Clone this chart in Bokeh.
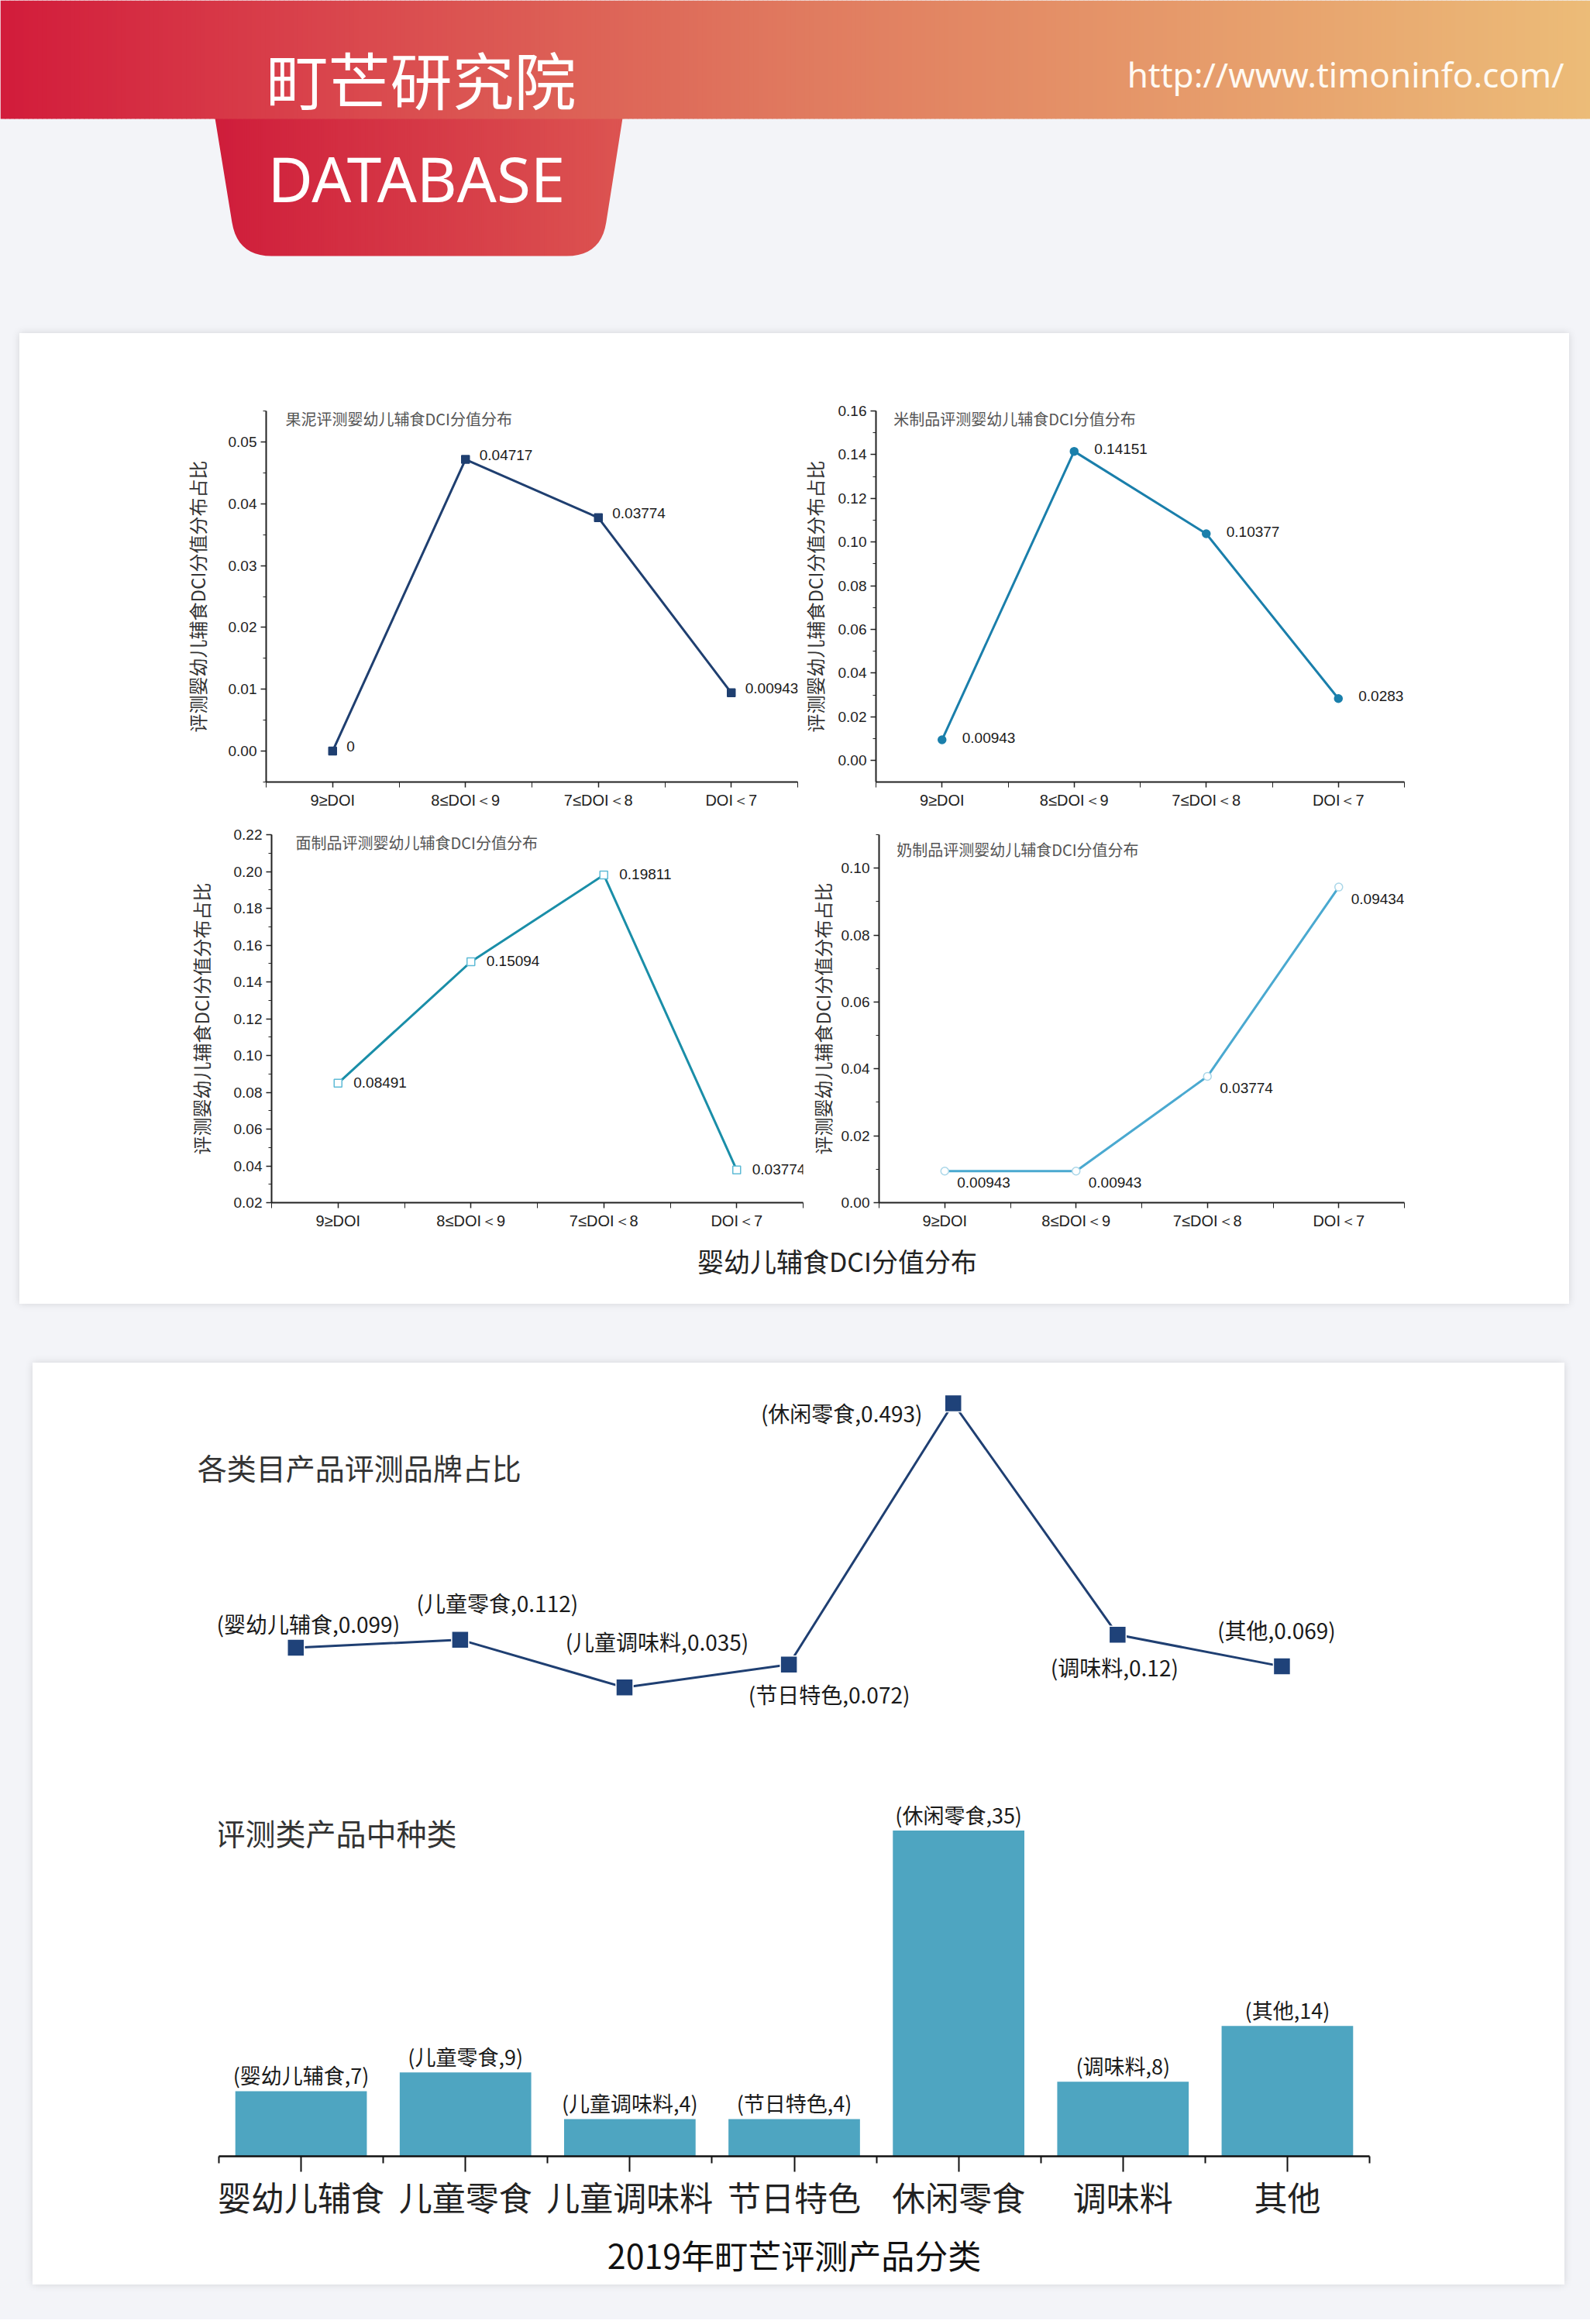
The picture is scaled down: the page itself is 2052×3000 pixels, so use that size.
import numpy as np
from bokeh.plotting import figure
from bokeh.layouts import column, row
from bokeh.models import (Range1d, FixedTicker, SingleIntervalTicker, NumeralTickFormatter,
                          ColumnDataSource, LabelSet, Label, Spacer)
from bokeh.embed import file_html
from bokeh.resources import INLINE
from bokeh.core.properties import value

# ---------------- data ----------------
dci_categories = ["9≥DOI", "8≤DOI＜9", "7≤DOI＜8", "DOI＜7"]
guoni_share = [0, 0.04717, 0.03774, 0.00943]
mizhi_share = [0.00943, 0.14151, 0.10377, 0.0283]
mianzhi_share = [0.08491, 0.15094, 0.19811, 0.03774]
naizhi_share = [0.00943, 0.00943, 0.03774, 0.09434]
dci_titles = ["果泥评测婴幼儿辅食DCI分值分布", "米制品评测婴幼儿辅食DCI分值分布",
              "面制品评测婴幼儿辅食DCI分值分布", "奶制品评测婴幼儿辅食DCI分值分布"]
dci_ylabel = "评测婴幼儿辅食DCI分值分布占比"
dci_xlabel = "婴幼儿辅食DCI分值分布"

product_categories = ["婴幼儿辅食", "儿童零食", "儿童调味料", "节日特色", "休闲零食", "调味料", "其他"]
brand_share = [0.099, 0.112, 0.035, 0.072, 0.493, 0.12, 0.069]
type_counts = [7, 9, 4, 4, 35, 8, 14]
line_title = "各类目产品评测品牌占比"
bar_title = "评测类产品中种类"
bar_xlabel = "2019年町芒评测产品分类"
brand_name = "町芒研究院"
brand_sub = "DATABASE"
brand_url = "http://www.timoninfo.com/"

# label offsets for the share line (style only)
line_label_dx = [16, 48, 42, 52, -144, -4, -7]
line_label_dy = [31, 48, 59, -38, -13, -42, 47]

BG = "#f3f4f8"
CJK = "Noto Sans CJK SC"


def hex2rgb(h):
    h = h.lstrip("#")
    return [int(h[i:i + 2], 16) for i in (0, 2, 4)]


def grad(stops, t):
    t = min(max(t, 0.0), 1.0)
    for (p0, c0), (p1, c1) in zip(stops[:-1], stops[1:]):
        if p0 <= t <= p1:
            f = (t - p0) / (p1 - p0) if p1 > p0 else 0
            a, b = hex2rgb(c0), hex2rgb(c1)
            c = [round(a[i] + (b[i] - a[i]) * f) for i in range(3)]
            return "#%02x%02x%02x" % tuple(c)
    return stops[-1][1]


def rounded_poly(pts, radii, nseg=12):
    xs, ys = [], []
    n = len(pts)
    for i, (p, r) in enumerate(zip(pts, radii)):
        if r == 0:
            xs.append(p[0]); ys.append(p[1]); continue
        pv, nx = np.array(pts[i - 1], float), np.array(pts[(i + 1) % n], float)
        pc = np.array(p, float)
        u1 = (pv - pc) / np.linalg.norm(pv - pc)
        u2 = (nx - pc) / np.linalg.norm(nx - pc)
        P0, P2 = pc + r * u1, pc + r * u2
        for t in np.linspace(0, 1, nseg):
            b = (1 - t) ** 2 * P0 + 2 * (1 - t) * t * pc + t ** 2 * P2
            xs.append(b[0]); ys.append(b[1])
    return xs, ys


def blank(fig, color):
    fig.background_fill_color = color
    fig.border_fill_color = color
    fig.outline_line_color = None
    fig.grid.visible = False


# ---------------- header ----------------
hdr = figure(width=2052, height=430, x_range=Range1d(0, 2052), y_range=Range1d(430, 0),
             x_axis_type=None, y_axis_type=None, min_border=0,
             output_backend="svg", toolbar_location=None)
blank(hdr, BG)

tab_stops = [(0, "#cf1d3b"), (1, "#dc5451")]
tx = np.arange(258, 822, 3.0)
hdr.quad(left=tx, right=tx + 3.6, top=150, bottom=345,
         fill_color=[grad(tab_stops, (x - 277) / 526) for x in tx], line_color=None)
tab_x, tab_y = rounded_poly([(277, 152), (306, 330), (775, 330), (803, 152)], [0, 44, 44, 0])
outer_x = [255, 825, 825, 255]
outer_y = [152, 152, 350, 350]
hdr.multi_polygons(xs=[[[outer_x, tab_x]]], ys=[[[outer_y, tab_y]]], fill_color=BG, line_color=None)

band_stops = [(0, "#d21c3b"), (0.2, "#d9444c"), (0.5, "#e07a5f"), (0.75, "#e69b6b"), (1, "#ecbc78")]
bx = np.linspace(0, 2052, 343)
hdr.quad(left=bx[:-1], right=bx[1:] + 0.8, top=0, bottom=153,
         fill_color=[grad(band_stops, x / 2052) for x in bx[:-1]], line_color=None)

hdr.add_layout(Label(x=343, y=99, text=brand_name, text_baseline="middle", text_font=CJK,
                     text_font_size="80px", text_color="white"))
hdr.add_layout(Label(x=345, y=229, text=brand_sub, text_baseline="middle", text_font="Noto Sans",
                     text_font_size="80px", text_color="white"))
hdr.add_layout(Label(x=2018, y=95, text=brand_url, text_baseline="middle", text_align="right",
                     text_font="Noto Sans", text_font_size="44px", text_color="#fffaf2"))


# ---------------- DCI subplots ----------------
def dci_plot(vals, title, title_xy, ylo, yhi, interval, w, h, bl, br, bt, bb,
             line_color, marker, m_line, m_fill, dx, dy, ystand):
    p = figure(width=w, height=h, x_range=Range1d(-0.5, 3.5), y_range=Range1d(ylo, yhi),
               min_border=0, min_border_left=bl, min_border_right=br,
               min_border_top=bt, min_border_bottom=bb,
               output_backend="svg", toolbar_location=None)
    blank(p, "white")
    xs = list(range(len(dci_categories)))
    src = ColumnDataSource(dict(x=xs, y=vals, t=[f"{v:g}" for v in vals]))
    p.line("x", "y", source=src, line_color=line_color, line_width=3)
    p.scatter("x", "y", source=src, marker=marker, size=10, line_color=m_line,
              fill_color=m_fill, line_width=1.5)
    p.add_layout(LabelSet(x="x", y="y", text="t", source=src, x_offset=dx, y_offset=dy,
                          text_align="left", text_baseline="middle",
                          text_font=value("Liberation Sans"), text_font_size="19px",
                          text_color="#1a1a1a"))
    p.add_layout(Label(x=title_xy[0], y=title_xy[1], text=title, text_baseline="middle",
                       text_font=CJK, text_font_size="20px", text_color="#555555"))
    xa, ya = p.xaxis[0], p.yaxis[0]
    xa.ticker = FixedTicker(ticks=xs, minor_ticks=[i - 0.5 for i in range(len(xs) + 1)])
    xa.major_label_overrides = {i: c for i, c in enumerate(dci_categories)}
    ya.ticker = SingleIntervalTicker(interval=interval, num_minor_ticks=2)
    ya.formatter = NumeralTickFormatter(format="0.00")
    for ax in (xa, ya):
        ax.axis_line_color = "#222222"
        ax.axis_line_width = 2
        ax.major_tick_line_color = "#222222"
        ax.minor_tick_line_color = "#222222"
        ax.major_tick_line_width = 1.5
        ax.major_tick_in = 0
        ax.major_tick_out = 7
        ax.minor_tick_in = 0
        ax.minor_tick_out = 4
        ax.major_label_standoff = 5
        ax.major_label_text_font = "Liberation Sans"
        ax.major_label_text_font_size = "19px"
        ax.major_label_text_color = "#222222"
    xa.minor_tick_out = 7
    xa.major_label_text_font_size = "20px"
    ya.axis_label = dci_ylabel
    ya.axis_label_text_font = CJK
    ya.axis_label_text_font_size = "24px"
    ya.axis_label_text_font_style = "normal"
    ya.axis_label_text_color = "#333333"
    ya.axis_label_standoff = ystand
    return p


tl = dci_plot(guoni_share, dci_titles[0], (-0.354, 0.05375), -0.005, 0.055, 0.01,
              1005, 622, 318, 1, 100, 43, "#1f3f70", "square", "#1f3f70", "#1f3f70", 18, 6, 20)
tr = dci_plot(mizhi_share, dci_titles[1], (-0.366, 0.15645), -0.0099, 0.16, 0.02,
              995, 622, 96, 213, 100, 43, "#1a7fab", "circle", "#1a7fab", "#1a7fab", 26, 3, 10)
bl = dci_plot(mianzhi_share, dci_titles[2], (-0.319, 0.2158), 0.02, 0.22, 0.02,
              1015, 548, 325, 4, 22, 48, "#1a8ea8", "square", "#5fbbd6", "white", 20, 1, 22)
br = dci_plot(naizhi_share, dci_titles[3], (-0.366, 0.1057), 0.0, 0.11, 0.02,
              985, 548, 86, 213, 25, 45, "#4aa9d0", "circle", "#a9d6e8", "white", 16, -15, 4)

strip = figure(width=2000, height=83, x_range=Range1d(25, 2025), y_range=Range1d(1683, 1600),
               x_axis_type=None, y_axis_type=None, min_border=0,
               output_backend="svg", toolbar_location=None)
blank(strip, "white")
strip.add_layout(Label(x=1080, y=1627, text=dci_xlabel, text_align="center", text_baseline="middle",
                       text_font=CJK, text_font_size="34px", text_color="#222222"))

card1 = column(row(tl, tr), row(bl, br), row(strip),
               styles={"background-color": "white", "box-shadow": "0 0 10px rgba(0,0,0,0.13)"})

# ---------------- share line chart ----------------
xs7 = list(range(len(product_categories)))
lp = figure(width=1977, height=481, x_range=Range1d(-0.6, 6.5), y_range=Range1d(-0.0301, 0.5317),
            x_axis_type=None, y_axis_type=None, min_border=0,
            min_border_left=212, min_border_right=259, min_border_top=21, min_border_bottom=10,
            output_backend="svg", toolbar_location=None)
blank(lp, "white")
lsrc = ColumnDataSource(dict(x=xs7, y=brand_share,
                             t=[f"({c},{v:g})" for c, v in zip(product_categories, brand_share)],
                             dx=line_label_dx, dy=line_label_dy))
lp.line("x", "y", source=lsrc, line_color="#1f3f72", line_width=3)
lp.scatter("x", "y", source=lsrc, marker="square", size=22, fill_color="#1f4279",
           line_color="white", line_width=1.5)
lp.add_layout(LabelSet(x="x", y="y", text="t", source=lsrc, x_offset="dx", y_offset="dy",
                       text_align="center", text_baseline="middle", text_font=value(CJK),
                       text_font_size="28px", text_color="#1a1a1a"))
lp.add_layout(Label(x=-0.599, y=0.3906, text=line_title, text_baseline="middle", text_font=CJK,
                    text_font_size="38px", text_color="#333333"))

# ---------------- type count bar chart ----------------
bp = figure(width=1977, height=709, x_range=Range1d(-0.5, 6.5), y_range=Range1d(0, 37.7),
            y_axis_location=None, min_border=0,
            min_border_left=240, min_border_right=252, min_border_top=90, min_border_bottom=166,
            output_backend="svg", toolbar_location=None)
blank(bp, "white")
bsrc = ColumnDataSource(dict(x=xs7, top=type_counts,
                             t=[f"({c},{v})" for c, v in zip(product_categories, type_counts)]))
bp.vbar(x="x", top="top", width=0.8, source=bsrc, fill_color="#4ea5c1", line_color=None)
bp.add_layout(LabelSet(x="x", y="top", text="t", source=bsrc, y_offset=1, text_align="center",
                       text_baseline="bottom", text_font=value(CJK), text_font_size="27px",
                       text_color="#1a1a1a"))
bp.add_layout(Label(x=-0.524, y=34.86, text=bar_title, text_baseline="middle", text_font=CJK,
                    text_font_size="39px", text_color="#333333"))
ax = bp.xaxis[0]
ax.ticker = FixedTicker(ticks=xs7, minor_ticks=[i - 0.5 for i in range(len(xs7) + 1)])
ax.major_label_overrides = {i: c for i, c in enumerate(product_categories)}
ax.axis_line_color = "#111111"
ax.axis_line_width = 2.5
ax.major_tick_line_color = "#111111"
ax.minor_tick_line_color = "#111111"
ax.major_tick_line_width = 2
ax.minor_tick_line_width = 2
ax.major_tick_in = 0
ax.major_tick_out = 20
ax.minor_tick_in = 0
ax.minor_tick_out = 9
ax.major_label_standoff = 0
ax.major_label_text_font = CJK
ax.major_label_text_font_size = "43px"
ax.major_label_text_color = "#222222"
ax.axis_label = bar_xlabel
ax.axis_label_text_font = CJK
ax.axis_label_text_font_size = "43px"
ax.axis_label_text_font_style = "normal"
ax.axis_label_text_color = "#111111"
ax.axis_label_standoff = 10

card2 = column(row(lp), row(bp),
               styles={"background-color": "white", "box-shadow": "0 0 10px rgba(0,0,0,0.13)"})

page = column(
    hdr,
    row(Spacer(width=25, height=1253), card1, Spacer(width=27, height=1253)),
    Spacer(width=2052, height=76),
    row(Spacer(width=42, height=1190), card2, Spacer(width=33, height=1190)),
    Spacer(width=2052, height=45),
    styles={"background-color": BG},
)

open("out.html", "w").write(file_html(page, INLINE))
